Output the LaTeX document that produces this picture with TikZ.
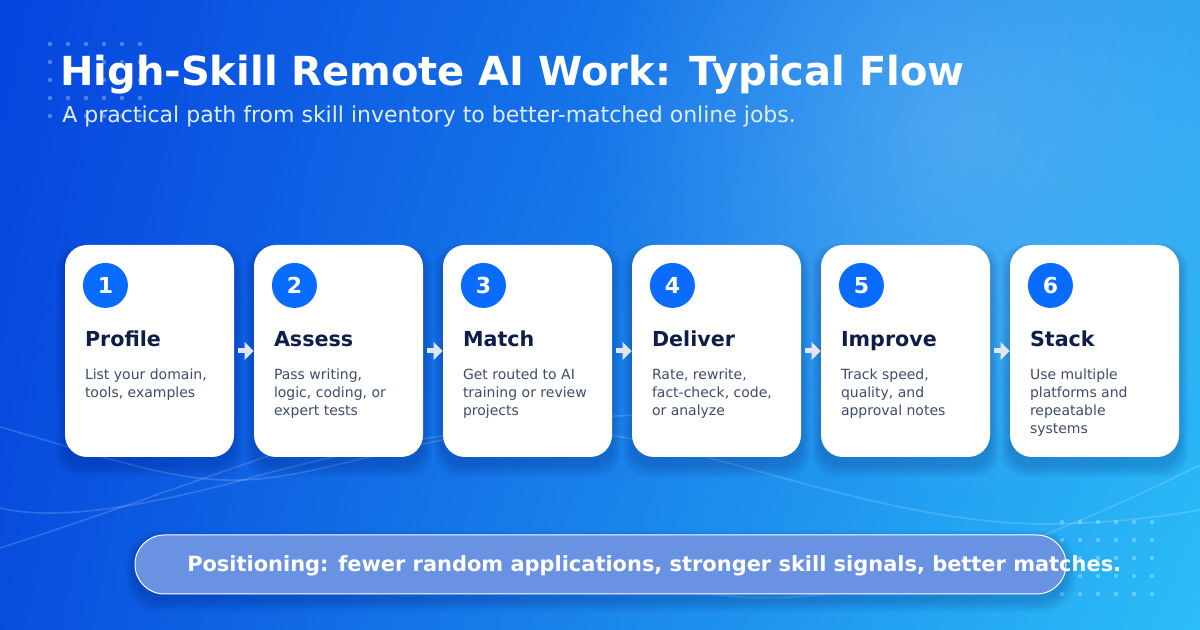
\documentclass[tikz,border=0pt]{standalone}
\usepackage{fontspec}
\setmainfont{DejaVu Sans}
\usetikzlibrary{arrows.meta,calc,positioning,fadings,shadings}
\definecolor{bgtl}{RGB}{5,68,222}
\definecolor{bgtr}{RGB}{36,160,242}
\definecolor{bgbl}{RGB}{8,78,222}
\definecolor{bgbr}{RGB}{44,190,248}
\definecolor{stepblue}{RGB}{10,108,255}
\definecolor{stepnavy}{RGB}{14,30,72}
\definecolor{stepgrey}{RGB}{62,76,108}
\definecolor{pillblue}{RGB}{106,146,226}
\definecolor{subwhite}{RGB}{226,236,255}
\definecolor{arrowgrey}{RGB}{226,230,240}
\tikzfading[name=glowfade,inner color=transparent!0,outer color=transparent!100]

\tikzset{
  stepcard/.style={draw=none,fill=white,rounded corners=16.5pt,minimum width=126.75pt,minimum height=159pt,inner sep=0pt},
  stepnum/.style={circle,fill=stepblue,text=white,minimum size=33.75pt,inner sep=0pt,font=\bfseries\fontsize{16.5}{20}\selectfont},
  stephead/.style={anchor=base west,inner sep=0pt,text=stepnavy,font=\bfseries\fontsize{15.5}{18}\selectfont},
  stepdesc/.style={anchor=north west,inner sep=0pt,align=left,text=stepgrey,font=\fontsize{10.5}{13.5}\selectfont},
  flowarrow/.style={arrowgrey,line width=3.75pt,-{Triangle[width=12.75pt,length=6.75pt]},shorten <=3pt},
  wave/.style={white,opacity=0.16,line width=1.2pt},
  dotgrid/.style={white,opacity=0.3},
  pill/.style={draw=white,line width=0.75pt,fill=pillblue,rounded corners=22pt,minimum width=698.25pt,minimum height=44.25pt,inner sep=0pt}
}

\begin{document}
\begin{tikzpicture}[x=0.75pt,y=-0.75pt,>=Triangle]
  \useasboundingbox (0,0) rectangle (1200,630);
  % background
  \shade[upper left=bgtl,upper right=bgtr,lower left=bgbl,lower right=bgbr] (0,0) rectangle (1200,630);
  \fill[white,opacity=0.2,path fading=glowfade] (960,130) circle (280pt);
  \draw[wave] (0,427) .. controls (100,455) and (170,482) .. (240,480) .. controls (330,478) and (440,425) .. (560,428) .. controls (700,440) and (880,525) .. (1050,524) .. controls (1120,523) and (1170,515) .. (1200,510);
  \draw[wave] (0,508) .. controls (60,522) and (150,505) .. (250,478) .. controls (350,450) and (500,420) .. (640,415);
  \draw[wave] (0,548) .. controls (150,500) and (300,440) .. (420,410);
  \draw[wave] (700,592) .. controls (800,610) and (950,590) .. (1200,465);
  % dot grids
  \foreach \i in {0,...,5}
    \foreach \j in {0,...,4} {
      \fill[dotgrid] (50+18*\i,44+18*\j) circle (1.65pt);
      \fill[dotgrid] (1062+18*\i,522+18*\j) circle (1.65pt);
    }
  % title
  \node[anchor=base west,inner sep=0pt,text=white,font=\bfseries\fontsize{30}{36}\selectfont] (title) at (60,86) {High-Skill Remote AI Work: Typical Flow};
  \node[anchor=base west,inner sep=0pt,text=subwhite,font=\fontsize{16.5}{20}\selectfont] (subtitle) at (62,123) {A practical path from skill inventory to better-matched online jobs.};
  % step cards
  \foreach \n/\head/\desc [evaluate=\n as \cx using 149.5+189*(\n-1)] in {
      1/Profile/{List your domain,\\tools, examples},
      2/Assess/{Pass writing,\\logic, coding, or\\expert tests},
      3/Match/{Get routed to AI\\training or review\\projects},
      4/Deliver/{Rate, rewrite,\\fact-check, code,\\or analyze},
      5/Improve/{Track speed,\\quality, and\\approval notes},
      6/Stack/{Use multiple\\platforms and\\repeatable\\systems}} {
    \foreach \s in {1,...,6}
      \fill[black!70!blue,opacity=0.03,rounded corners=18pt] (\cx-84.5-1.5*\s,253-1.5*\s) rectangle (\cx+84.5+1.5*\s,465+2*\s);
    \node[stepcard] (c\n) at (\cx,351) {};
    \node[stepnum] (n\n) at ($(c\n.north west)+(40.7,40.7)$) {\n};
    \node[stephead] (h\n) at ($(c\n.north west)+(20,102)$) {\head};
    \node[stepdesc] (d\n) at ($(c\n.north west)+(20,124)$) {\desc};
  }
  \foreach \a/\b in {1/2,2/3,3/4,4/5,5/6}
    \draw[flowarrow] (c\a.east) -- (c\b.west);
  % positioning note
  \foreach \s in {1,...,6}
    \fill[black!70!blue,opacity=0.03,rounded corners=24pt] (135-1.5*\s,540-1.5*\s) rectangle (1066+1.5*\s,600+2*\s);
  \node[pill] (note) at (600.5,564.5) {};
  \node[anchor=base west,inner sep=0pt,text=white,font=\bfseries\fontsize{15.7}{19}\selectfont] (notetext) at (187,572) {Positioning: fewer random applications, stronger skill signals, better matches.};
\end{tikzpicture}
\end{document}
